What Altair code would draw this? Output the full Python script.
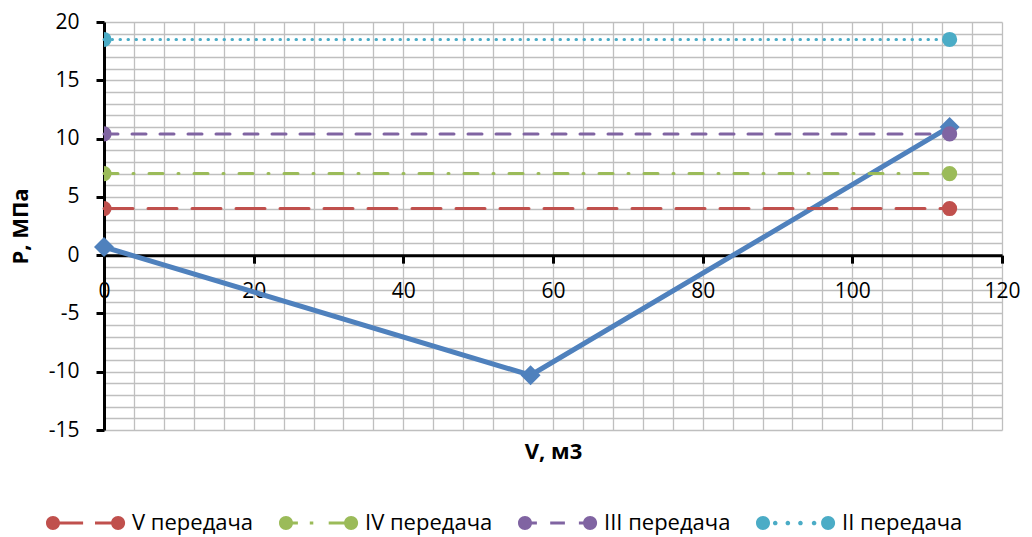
import altair as alt
import pandas as pd

# Constant pressure levels for each gear
gears = ["V передача", "IV передача", "III передача", "II передача"]
gear_pressure = [4.0, 7.0, 10.4, 18.5]
gear_volume = [0, 113]
gear_colors = ["#C0504D", "#9BBB59", "#8064A2", "#4BACC6"]
# dash patterns (round caps add the stroke width to every dash)
gear_dash = [[29, 15], [14, 15, 1, 15], [14, 14], [0.5, 7.5]]

# Pressure curve over volume
curve_volume = [0, 57, 113]
curve_pressure = [0.7, -10.3, 11.0]
curve_color = "#4F81BD"

# Axis values
x_grid_values = list(range(0, 121, 4))
x_label_values = list(range(0, 121, 20))
y_grid_values = list(range(-15, 21, 1))
y_label_values = list(range(-15, 21, 5))
x_domain = [0, 120]
y_domain = [-15, 20]

W, H = 898, 408
FONT = "Open Sans"

curve_df = pd.DataFrame({"V": curve_volume, "P": curve_pressure})
legend_df = pd.DataFrame({"gear": gears, "V": [0] * 4, "P": gear_pressure})


# Legend glyphs: marker - line pattern - marker, in symbol units (1 unit = 7 px)
def circ(cx, r=1.0):
    return f"M{cx + r},0A{r},{r} 0 1,1 {cx - r},0A{r},{r} 0 1,1 {cx + r},0Z"


def seg(a, b, h=0.22):
    return f"M{a},{-h}L{b},{-h}L{b},{h}L{a},{h}Z"


END = 9.3
legend_paths = [
    circ(0) + seg(0, 4.3) + seg(6.0, END) + circ(END),
    circ(0) + seg(0, 1.7) + seg(3.4, 3.9) + seg(6.1, END) + circ(END),
    circ(0) + seg(0, 1.7) + seg(3.6, 5.7) + seg(7.7, END) + circ(END),
    circ(0) + circ(1.75, 0.33) + circ(3.55, 0.33) + circ(5.35, 0.33) + circ(7.3, 0.33) + circ(END),
]

xs = alt.Scale(domain=x_domain, nice=False, zero=False)
ys = alt.Scale(domain=y_domain, nice=False, zero=False)

grid_style = dict(grid=True, gridColor="#BFBFBF", gridWidth=1.3, labels=False,
                  ticks=False, domain=False)

x_grid_axis = alt.Axis(values=x_grid_values, orient="bottom", title="V, м3",
                       titleFontSize=22, titleFontWeight="bold", titleColor="black",
                       titlePadding=11, **grid_style)
y_grid_axis = alt.Axis(values=y_grid_values, orient="left", title="P, МПа",
                       titleFontSize=22, titleFontWeight="bold", titleColor="black",
                       titlePadding=72, **grid_style)

label_style = dict(grid=False, domain=True, domainColor="black", domainWidth=3,
                   ticks=True, tickColor="black", tickWidth=3, tickSize=8,
                   labelFontSize=21, labelColor="black", labelOverlap=False,
                   labelFlush=False, title=None, labelExpr="toString(datum.value)")

# x labels sit on the P = 0 line
zero_offset = -H * (0 - y_domain[0]) / (y_domain[1] - y_domain[0])
x_label_axis = alt.Axis(values=x_label_values, orient="bottom", offset=zero_offset,
                        labelPadding=17, **label_style)
y_label_axis = alt.Axis(values=y_label_values, orient="left", labelPadding=17,
                        **label_style)

# Grid carrier (no visible marks)
grid_layer = alt.Chart(curve_df).mark_line(opacity=0).encode(
    x=alt.X("V:Q", scale=xs, axis=x_grid_axis),
    y=alt.Y("P:Q", scale=ys, axis=y_grid_axis),
)

curve_line = alt.Chart(curve_df).mark_line(color=curve_color, strokeWidth=5).encode(
    x=alt.X("V:Q", scale=xs, axis=x_label_axis),
    y=alt.Y("P:Q", scale=ys, axis=y_label_axis),
)
curve_pts = alt.Chart(curve_df).mark_point(
    shape="diamond", filled=True, color=curve_color, size=400, opacity=1
).encode(
    x=alt.X("V:Q", scale=xs, axis=None),
    y=alt.Y("P:Q", scale=ys, axis=None),
)

# One line + end markers per gear (markers clipped to the plot area)
gear_layers = []
for g, p, c, d in zip(gears, gear_pressure, gear_colors, gear_dash):
    df = pd.DataFrame({"V": gear_volume, "P": [p] * len(gear_volume)})
    line = alt.Chart(df).mark_line(color=c, strokeWidth=3, strokeDash=d,
                                   strokeCap="round").encode(
        x=alt.X("V:Q", scale=xs, axis=None),
        y=alt.Y("P:Q", scale=ys, axis=None),
    )
    pts = alt.Chart(df).mark_point(filled=True, color=c, size=230, opacity=1,
                                   shape="circle", clip=True).encode(
        x=alt.X("V:Q", scale=xs, axis=None),
        y=alt.Y("P:Q", scale=ys, axis=None),
    )
    gear_layers.append((line, pts))

legend_props = dict(
    title=None, orient="none", direction="horizontal", columns=4,
    legendX=-62, legendY=490, padding=0, columnPadding=21,
    symbolSize=196, symbolOpacity=1, symbolStrokeWidth=0, labelOffset=68,
    labelFontSize=22, labelColor="black", labelFont=FONT, labelLimit=400,
)
legend_layer = alt.Chart(legend_df).mark_point(filled=True, opacity=0).encode(
    x=alt.X("V:Q", scale=xs, axis=None),
    y=alt.Y("P:Q", scale=ys, axis=None),
    color=alt.Color("gear:N", scale=alt.Scale(domain=gears, range=gear_colors),
                    legend=alt.Legend(**legend_props)),
    shape=alt.Shape("gear:N", scale=alt.Scale(domain=gears, range=legend_paths),
                    legend=alt.Legend(**legend_props)),
)

layers = [grid_layer, curve_line]
layers += [l for l, _ in gear_layers]
layers += [curve_pts]
layers += [p for _, p in gear_layers]
layers += [legend_layer]

chart = (
    alt.layer(*layers)
    .resolve_axis(x="independent", y="independent")
    .properties(
        width=W, height=H, autosize=alt.AutoSizeParams(type="none"),
        padding={"left": 104, "top": 22, "right": 30, "bottom": 107},
    )
    .configure(font=FONT)
    .configure_view(stroke=None)
    .configure_axis(labelFont=FONT, titleFont=FONT, zindex=0)
)

chart.save("out.html", embed_options={"renderer": "svg", "actions": False})
